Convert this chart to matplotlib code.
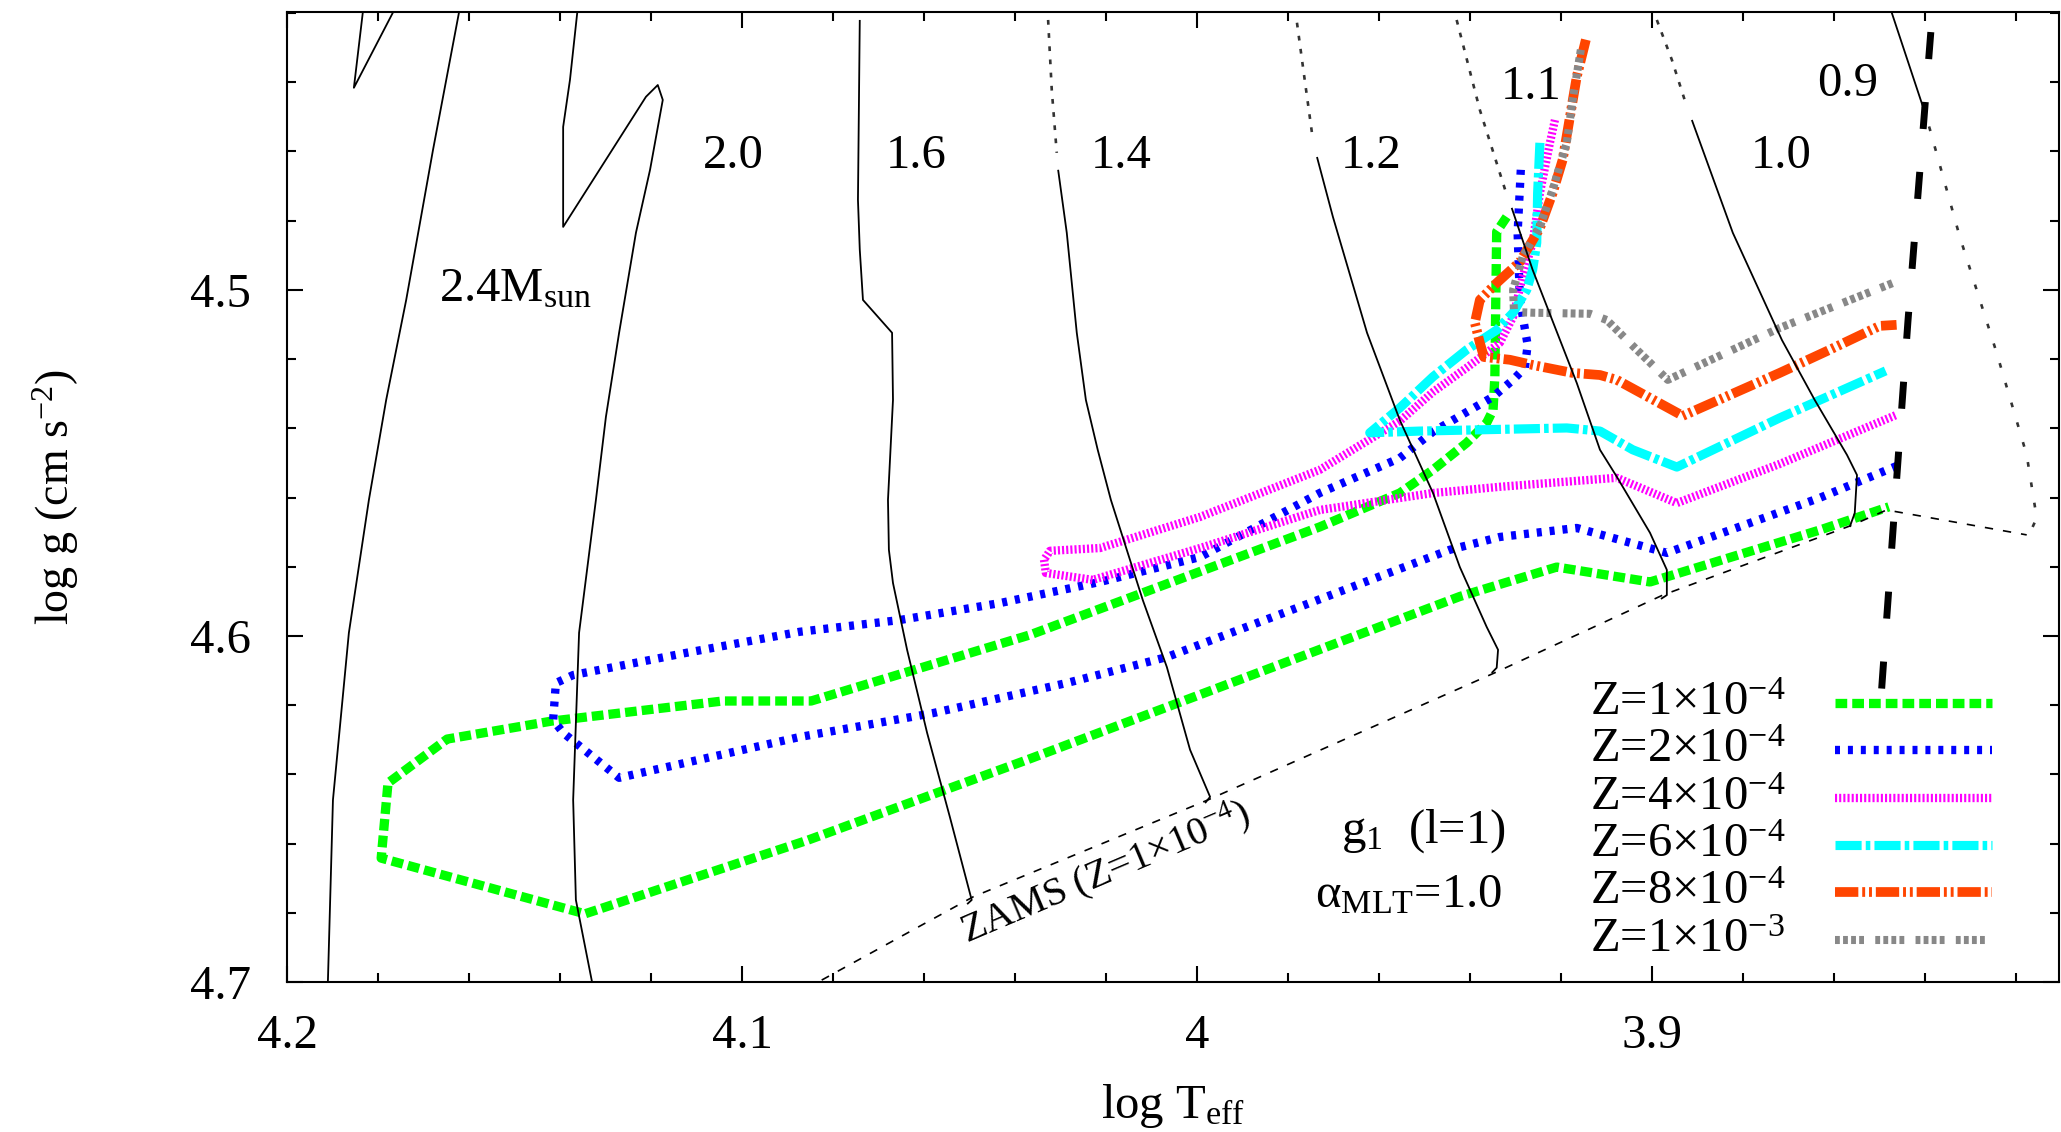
import matplotlib
matplotlib.use('Agg')
import matplotlib.pyplot as plt
import numpy as np

plt.rcParams['font.family'] = ['Liberation Serif', 'DejaVu Serif']
plt.rcParams['mathtext.fontset'] = 'custom'
plt.rcParams['mathtext.rm'] = 'Liberation Serif'
plt.rcParams['mathtext.it'] = 'Liberation Serif:italic'
plt.rcParams['mathtext.default'] = 'regular'

# g1 (l=1) instability boundaries, one per metallicity (log Teff, log g)
z1_logT = [3.9319, 3.9341, 3.9343, 3.9345, 3.9349, 3.9363, 3.9407, 3.9481, 3.9554, 3.9730,
           4.0367, 4.0848, 4.1042, 4.1418, 4.1648, 4.1778, 4.1793, 4.1345, 4.0855, 4.0367,
           3.9774, 3.9422, 3.9209, 3.9004, 3.8631, 3.8479]
z1_logg = [4.4789, 4.4832, 4.5029, 4.5251, 4.5347, 4.5384, 4.5442, 4.5520, 4.5587, 4.5685,
           4.5997, 4.6188, 4.6188, 4.6246, 4.6298, 4.6425, 4.6642, 4.6803, 4.6590, 4.6355,
           4.6061, 4.5886, 4.5801, 4.5844, 4.5694, 4.5627]

z2_logT = [3.9288, 3.9295, 3.9290, 3.9273, 3.9279, 3.9305, 3.9349, 3.9407, 3.9481, 3.9554,
           3.9730, 3.9993, 4.0213, 4.0433, 4.0653, 4.0873, 4.1123, 4.1371, 4.1409, 4.1415,
           4.1393, 4.1270, 4.0873, 4.0580, 4.0286, 4.0066, 3.9774, 3.9444, 3.9334, 3.9165,
           3.8967, 3.8631, 3.8462]
z2_logg = [4.4653, 4.4835, 4.5029, 4.5159, 4.5225, 4.5260, 4.5309, 4.5353, 4.5410, 4.5486,
           4.5587, 4.5772, 4.5844, 4.5905, 4.5954, 4.5988, 4.6049, 4.6113, 4.6136, 4.6243,
           4.6280, 4.6410, 4.6292, 4.6223, 4.6136, 4.6061, 4.5916, 4.5751, 4.5714, 4.5688,
           4.5760, 4.5601, 4.5509]

z4_logT = [3.9213, 3.9224, 3.9246, 3.9262, 3.9284, 3.9305, 3.9334, 3.9407, 3.9481, 3.9554,
           3.9730, 3.9993, 4.0213, 4.0323, 4.0336, 4.0332, 4.0229, 3.9993, 3.9730, 3.9481,
           3.9334, 3.9077, 3.8945, 3.8719, 3.8462]
z4_logg = [4.4509, 4.4575, 4.4720, 4.4864, 4.4962, 4.5078, 4.5153, 4.5225, 4.5295, 4.5379,
           4.5520, 4.5656, 4.5746, 4.5754, 4.5780, 4.5818, 4.5838, 4.5746, 4.5636, 4.5587,
           4.5569, 4.5543, 4.5616, 4.5503, 4.5361]

z6_logT = [3.9246, 3.9251, 3.9253, 3.9262, 3.9275, 3.9305, 3.9341, 3.9407, 3.9481, 3.9554,
           3.9620, 3.9510, 3.9187, 3.9114, 3.9042, 3.8945, 3.8719, 3.8486]
z6_logg = [4.4575, 4.4720, 4.4864, 4.4942, 4.5000, 4.5066, 4.5116, 4.5173, 4.5251, 4.5341,
           4.5413, 4.5408, 4.5399, 4.5408, 4.5462, 4.5512, 4.5370, 4.5234]

z8_logT = [3.9145, 3.9165, 3.9180, 3.9196, 3.9218, 3.9246, 3.9290, 3.9341, 3.9378, 3.9389,
           3.9378, 3.9369, 3.9312, 3.9262, 3.9174, 3.9114, 3.9077, 3.8932, 3.8719, 3.8609,
           3.8499, 3.8462]
z8_logg = [4.4277, 4.4384, 4.4500, 4.4624, 4.4720, 4.4821, 4.4919, 4.4980, 4.5029, 4.5095,
           4.5153, 4.5194, 4.5202, 4.5217, 4.5240, 4.5246, 4.5260, 4.5364, 4.5240, 4.5173,
           4.5104, 4.5101]

z10_logT = [3.9156, 3.9174, 3.9187, 3.9218, 3.9246, 3.9284, 3.9305, 3.9303, 3.9262, 3.9136,
            3.9099, 3.9037, 3.8965, 3.8719, 3.8470]
z10_logg = [4.4306, 4.4451, 4.4575, 4.4711, 4.4818, 4.4905, 4.5000, 4.5064, 4.5066, 4.5069,
            4.5087, 4.5168, 4.5260, 4.5110, 4.4980]

z_labels = [r'Z=1×10$^{-4}$', r'Z=2×10$^{-4}$', r'Z=4×10$^{-4}$',
            r'Z=6×10$^{-4}$', r'Z=8×10$^{-4}$', r'Z=1×10$^{-3}$']

# evolutionary tracks (solid = main part, dotted = upper part)
m24_logT = [4.1615, 4.1679, 4.1738, 4.1782, 4.1820, 4.1864, 4.1899, 4.1910, 4.1912]
m24_logg = [4.415, 4.4595, 4.5029, 4.5318, 4.5607, 4.5991, 4.6474, 4.6994, 4.705]
m24_hook_logT = [4.1748, 4.1853, 4.1829]
m24_hook_logg = [4.415, 4.4416, 4.415]

m20_logT = [4.1358, 4.1378, 4.1393, 4.1393, 4.1211, 4.1185, 4.1174, 4.1202, 4.1233, 4.1270,
            4.1299, 4.1321, 4.1358, 4.1371, 4.1365, 4.1322]
m20_logg = [4.415, 4.4393, 4.4529, 4.4818, 4.4442, 4.4408, 4.4451, 4.4653, 4.4835, 4.5124,
            4.5367, 4.5607, 4.5991, 4.6474, 4.6763, 4.705]

m16_logT = [4.0741, 4.0745, 4.0741, 4.0734, 4.0670, 4.0668, 4.0679, 4.0677, 4.0668, 4.0637,
            4.0593, 4.0543, 4.0495, 4.0505]
m16_logg = [4.4220, 4.4740, 4.4884, 4.5029, 4.5124, 4.5318, 4.5607, 4.5751, 4.5847, 4.6040,
            4.6280, 4.6523, 4.6763, 4.6775]

m14_top_logT = [4.0327, 4.0319, 4.0308]
m14_top_logg = [4.4220, 4.4422, 4.4604]
m14_logT = [4.0305, 4.0286, 4.0264, 4.0244, 4.0218, 4.0189, 4.0119, 4.0066, 4.0015, 3.9971, 3.9982]
m14_logg = [4.4653, 4.4835, 4.5124, 4.5318, 4.5462, 4.5607, 4.5896, 4.6090, 4.6329, 4.6465, 4.6483]

m12_top_logT = [3.9780, 3.9763, 3.9745]
m12_top_logg = [4.4228, 4.4393, 4.4566]
m12_logT = [3.9736, 3.9701, 3.9626, 3.9554, 3.9481, 3.9422, 3.9363, 3.9338, 3.9341, 3.9352]
m12_logg = [4.4616, 4.4789, 4.5124, 4.5376, 4.5587, 4.5801, 4.5974, 4.6040, 4.6092, 4.6107]

m11_top_logT = [3.9429, 3.9378, 3.9319]
m11_top_logg = [4.4220, 4.4480, 4.4725]
m11_logT = [3.9308, 3.9262, 3.9165, 3.9114, 3.9077, 3.9004, 3.8967, 3.8967, 3.8980]
m11_logg = [4.4763, 4.4942, 4.5269, 4.5462, 4.5540, 4.5702, 4.5809, 4.5882, 4.5893]

m10_top_logT = [3.8989, 3.8956, 3.8923]
m10_top_logg = [4.4220, 4.4335, 4.4471]
m10_logT = [3.8912, 3.8822, 3.8714, 3.8642, 3.8571, 3.8549, 3.8554, 3.8565]
m10_logg = [4.4509, 4.4835, 4.5145, 4.5318, 4.5477, 4.5535, 4.5645, 4.5685]

m09_logT = [3.8485, 3.8404]
m09_logg = [4.415, 4.4471]
m09_low_logT = [3.8404, 3.8389, 3.8323, 3.8242, 3.8176, 3.8154, 3.8176]
m09_low_logg = [4.4471, 4.4535, 4.4847, 4.5182, 4.5477, 4.5659, 4.5723]

zams_logT = [4.086, 4.0492, 3.9976, 3.9341, 3.8976, 3.8558, 3.8484, 3.8176]
zams_logg = [4.702, 4.6754, 4.6474, 4.6104, 4.5882, 4.5679, 4.5636, 4.5708]

edge_logT = [3.8382, 3.8437, 3.8495]
edge_logg = [4.4176, 4.5090, 4.6156]

mass_labels = ['2.0', '1.6', '1.4', '1.2', '1.1', '1.0', '0.9']
mass_label_logT = [4.1020, 4.0618, 4.0167, 3.9618, 3.9266, 3.8716, 3.8569]
mass_label_logg = [4.4647, 4.4647, 4.4647, 4.4647, 4.4448, 4.4647, 4.4439]

fig = plt.figure(figsize=(20.61, 11.32), dpi=100)
ax = fig.add_axes([287 / 2061, 1 - 982 / 1132, 1772 / 2061, 970 / 1132])

# tracks
trk = dict(color='black', lw=1.3, zorder=3, solid_capstyle='butt')
dot = dict(color='#333333', lw=1.9, zorder=3, dashes=(1.8, 3.2))
ax.plot(m24_logT, m24_logg, **trk)
ax.plot(m24_hook_logT, m24_hook_logg, **trk)
ax.plot(m20_logT, m20_logg, **trk)
ax.plot(m16_logT, m16_logg, **trk)
for tT, tg, sT, sg in [(m14_top_logT, m14_top_logg, m14_logT, m14_logg),
                       (m12_top_logT, m12_top_logg, m12_logT, m12_logg),
                       (m11_top_logT, m11_top_logg, m11_logT, m11_logg),
                       (m10_top_logT, m10_top_logg, m10_logT, m10_logg)]:
    ax.plot(tT, tg, **dot)
    ax.plot(sT, sg, **trk)
ax.plot(m09_logT, m09_logg, **trk)
ax.plot(m09_low_logT, m09_low_logg, color='#333333', lw=1.9, zorder=3, dashes=(1.8, 6))
ax.plot(zams_logT, zams_logg, color='black', lw=1.2, dashes=(5, 6), zorder=3)
ax.plot(edge_logT, edge_logg, color='black', lw=5, linestyle=(6.15, (3.9, 6.2)), zorder=3)

# instability boundaries
styles = [
    (z1_logT, z1_logg, '#00ff00', 6.7, (1.26, 0.54)),
    (z2_logT, z2_logg, '#0000ff', 6.0, (0.6, 0.95)),
    (z4_logT, z4_logg, '#ff00ff', 6.0, (0.25, 0.25)),
    (z6_logT, z6_logg, '#00ffff', 6.6, (2.85, 0.45, 0.5, 0.45)),
    (z8_logT, z8_logg, '#ff4500', 7.0, (2.4, 0.4, 0.3, 0.4, 0.3, 0.4)),
    (z10_logT, z10_logg, '#888888', 5.8, (0.6, 0.4, 0.6, 0.4, 0.6, 0.4, 0.6, 1.4)),
]
for T, g, c, lw, ds in styles:
    ax.plot(T, g, color=c, lw=lw, dashes=ds, zorder=2)

# key: text on the left, line sample on the right
ax_h = 970.0
for i, ((T, g, c, lw, ds), lab) in enumerate(zip(styles, z_labels)):
    yb = (982 - (715 + 47.3 * i)) / ax_h
    ax.text(0.7903, yb, lab, transform=ax.transAxes, ha='center', va='baseline', fontsize=35)
    ax.plot([0.8736, 0.9622], [yb + 12 / ax_h] * 2, transform=ax.transAxes,
            color=c, lw=lw, dashes=ds, clip_on=False)

# annotations
ax.text(4.1497, 4.5032, r'2.4M$_{\mathrm{sun}}$', fontsize=35, va='baseline', ha='center')
for lab, x, y in zip(mass_labels, mass_label_logT, mass_label_logg):
    ax.text(x, y, lab, fontsize=35, va='baseline', ha='center')
ax.text(4.0505, 4.6887, r'ZAMS (Z=1×10$^{-4}$)', fontsize=29, rotation=23,
        rotation_mode='anchor', va='baseline', ha='left')
ax.text(3.9502, 4.6598, r'g$_1$  (l=1)', fontsize=35, va='baseline', ha='center')
ax.text(3.9534, 4.6783, r'α$_{\mathrm{MLT}}$=1.0', fontsize=35, va='baseline', ha='center')

ax.set_xlim(4.2, 3.8105)
ax.set_ylim(4.7, 4.4197)
ax.set_xticks([4.2, 4.1, 4.0, 3.9])
ax.set_xticklabels(['4.2', '4.1', '4', '3.9'])
ax.set_xticks(np.arange(3.82, 4.2, 0.02), minor=True)
ax.set_yticks([4.5, 4.6, 4.7])
ax.set_yticklabels(['4.5', '4.6', '4.7'])
ax.set_yticks(np.arange(4.42, 4.70, 0.02), minor=True)
ax.tick_params(which='both', direction='in', top=True, right=True, width=1.5, labelsize=35)
ax.tick_params(which='major', length=11.5)
ax.tick_params(which='minor', length=6.5)
ax.tick_params(axis='x', pad=23)
ax.tick_params(axis='y', pad=26)
for s in ax.spines.values():
    s.set_linewidth(1.5)

ax.set_xlabel(r'log T$_{\mathrm{eff}}$', fontsize=35)
ax.set_ylabel(r'log g (cm s$^{-2}$)', fontsize=33)
ax.xaxis.set_label_coords(0.5, -0.103)
ax.yaxis.set_label_coords(-0.1163, 0.5)

fig.savefig('out.png', dpi=100)
